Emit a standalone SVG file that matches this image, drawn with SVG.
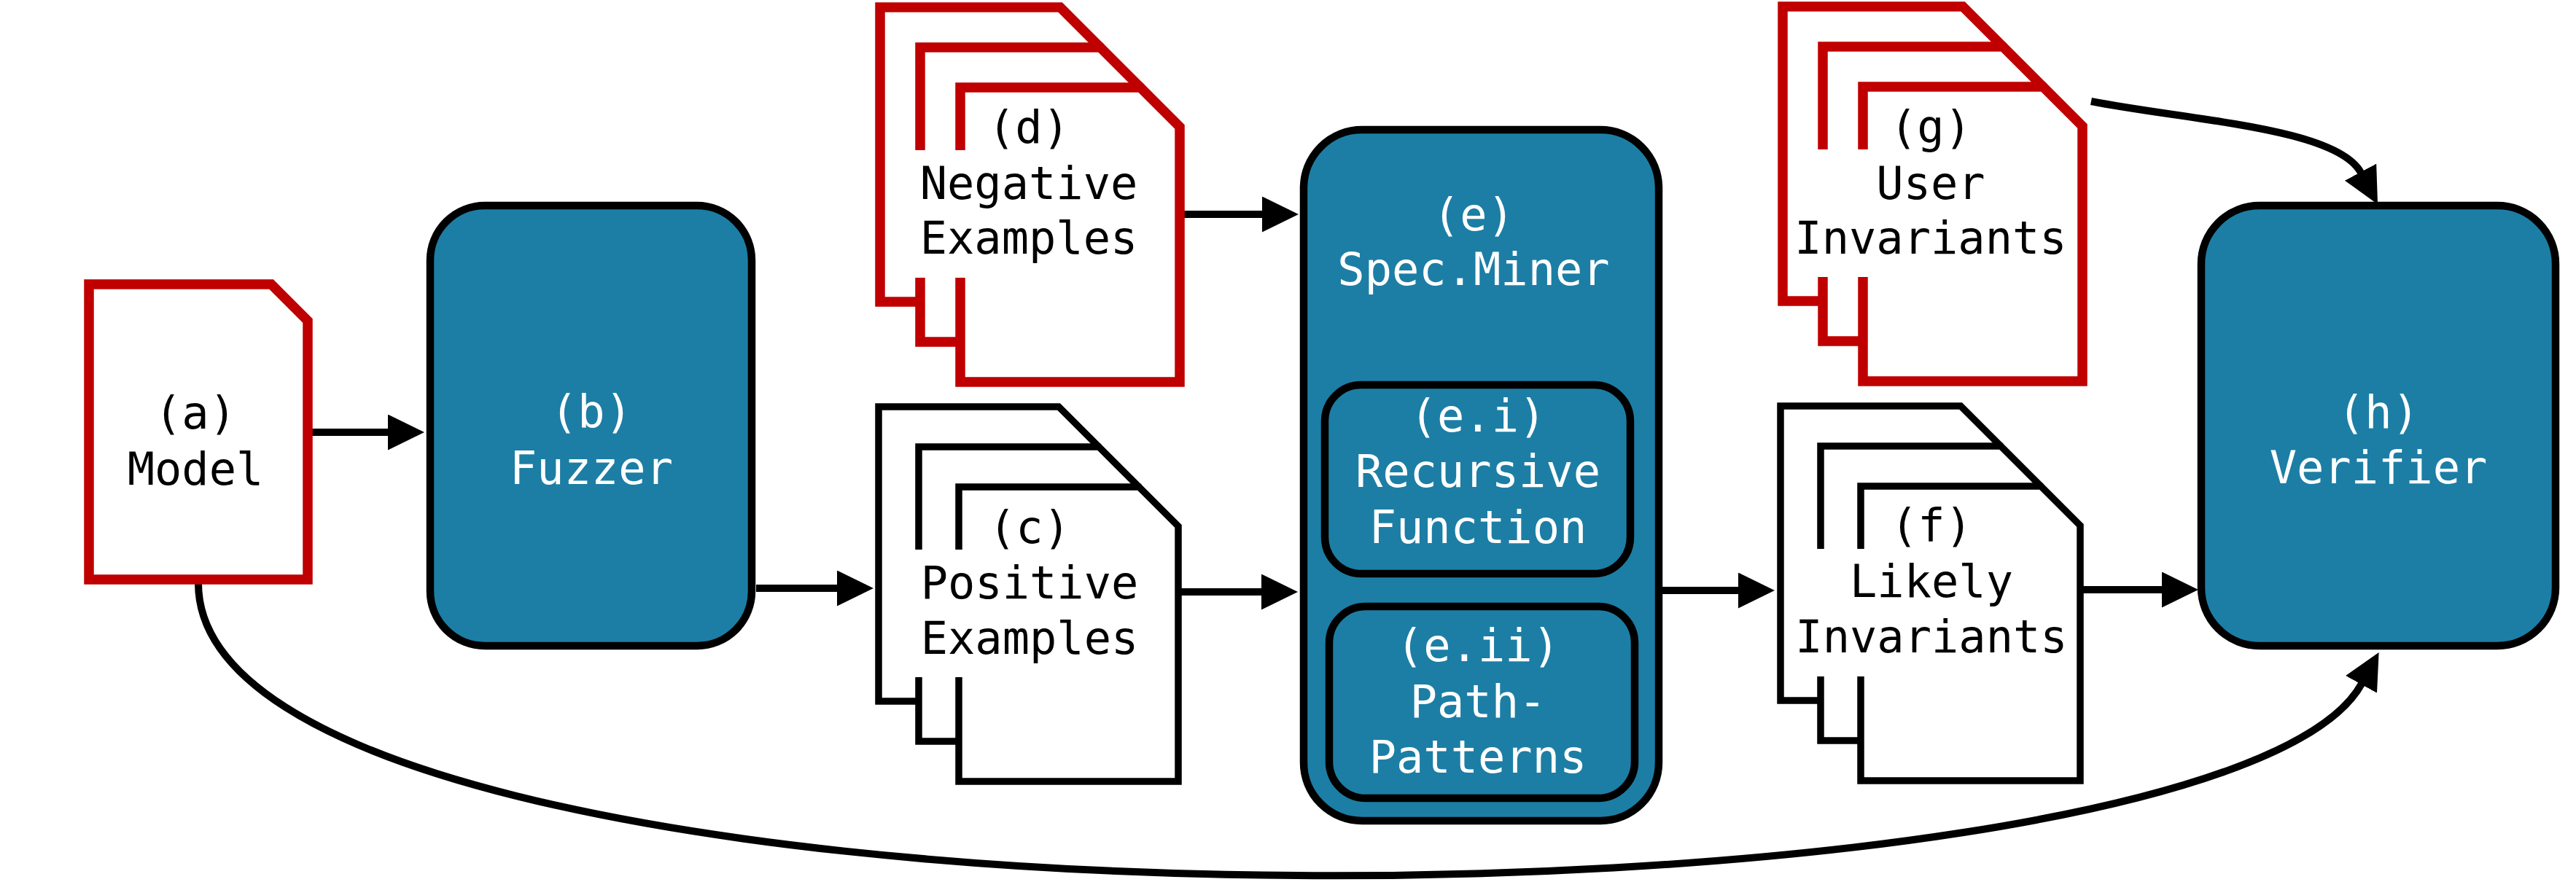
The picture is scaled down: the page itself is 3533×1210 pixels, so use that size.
<svg xmlns="http://www.w3.org/2000/svg" xmlns:xlink="http://www.w3.org/1999/xlink" width="3533" height="1210" viewBox="0 0 3533 1210">
<style>
.t{font-family:"DejaVu Sans Mono","Liberation Mono",monospace;font-size:62px;text-anchor:middle}
.tb{fill:#000}
.tw{fill:#fff}
.box{fill:#1c7ea5;stroke:#000;stroke-width:10.5}
.red{fill:#fff;stroke:#c00000;stroke-width:13.5;stroke-linejoin:miter}
.blk{fill:#fff;stroke:#000;stroke-width:9.5;stroke-linejoin:miter}
.conn{fill:none;stroke:#000;stroke-width:10}
</style>
<defs>
<marker id="ah" markerUnits="userSpaceOnUse" markerWidth="52" markerHeight="50" refX="1" refY="24.5" orient="auto">
<path d="M0,0 L50,24.5 L0,49 z" fill="#000"/>
</marker>
<polygon id="doc" points="0,0 247,0 301,54 301,404 0,404"/>
</defs>
<rect width="3533" height="1210" fill="#fff"/>
<g id="connectors">
<path class="conn" d="M423,593 H533" marker-end="url(#ah)"/>
<path class="conn" d="M1037,807 H1149" marker-end="url(#ah)"/>
<path class="conn" d="M1621,294 H1732" marker-end="url(#ah)"/>
<path class="conn" d="M1620,812 H1731" marker-end="url(#ah)"/>
<path class="conn" d="M2277,810 H2385" marker-end="url(#ah)"/>
<path class="conn" d="M2857,809 H2966" marker-end="url(#ah)"/>
<path class="conn" d="M2868,139 C3000,165 3205,175 3238,237" marker-end="url(#ah)"/>
<path class="conn" d="M272,800 C272,1320 3040,1300 3239,938" marker-end="url(#ah)"/>
</g>
<g id="node-a">
<polygon class="red" points="122,390 372,390 422,440 422,795 122,795"/>
<text class="t tb" x="268" y="588">(a)</text>
<text class="t tb" x="268" y="665">Model</text>
</g>
<g id="node-b">
<rect class="box" x="590" y="282" width="441" height="604" rx="75" ry="75"/>
<text class="t tw" x="811" y="586">(b)</text>
<text class="t tw" x="811" y="664">Fuzzer</text>
</g>
<g id="node-c" transform="translate(1205,558)">
<use xlink:href="#doc" class="blk"/>
<use xlink:href="#doc" class="blk" x="55" y="55"/>
<use xlink:href="#doc" class="blk" x="110" y="110"/>
<rect x="45" y="196" width="300" height="175" fill="#fff"/>
<text class="t tb" x="207" y="187">(c)</text>
<text class="t tb" x="207" y="263">Positive</text>
<text class="t tb" x="207" y="339">Examples</text>
</g>
<g id="node-d" transform="translate(1207,10)">
<use xlink:href="#doc" class="red"/>
<use xlink:href="#doc" class="red" x="55" y="55"/>
<use xlink:href="#doc" class="red" x="110" y="110"/>
<rect x="45" y="196" width="300" height="175" fill="#fff"/>
<text class="t tb" x="204" y="186">(d)</text>
<text class="t tb" x="204" y="263">Negative</text>
<text class="t tb" x="204" y="338">Examples</text>
</g>
<g id="node-e">
<rect class="box" x="1788" y="178" width="487" height="948" rx="80" ry="80"/>
<text class="t tw" x="2021" y="316">(e)</text>
<text class="t tw" x="2021" y="391">Spec.Miner</text>
</g>
<g id="node-e-i">
<rect class="box" x="1817" y="528" width="419" height="259" rx="50" ry="50"/>
<text class="t tw" x="2027" y="592">(e.i)</text>
<text class="t tw" x="2027" y="668">Recursive</text>
<text class="t tw" x="2027" y="745">Function</text>
</g>
<g id="node-e-ii">
<rect class="box" x="1823" y="832" width="419" height="263" rx="50" ry="50"/>
<text class="t tw" x="2027" y="907">(e.ii)</text>
<text class="t tw" x="2027" y="984">Path-</text>
<text class="t tw" x="2027" y="1060">Patterns</text>
</g>
<g id="node-f" transform="translate(2442,557)">
<use xlink:href="#doc" class="blk"/>
<use xlink:href="#doc" class="blk" x="55" y="55"/>
<use xlink:href="#doc" class="blk" x="110" y="110"/>
<rect x="45" y="196" width="300" height="175" fill="#fff"/>
<text class="t tb" x="207" y="185">(f)</text>
<text class="t tb" x="207" y="262">Likely</text>
<text class="t tb" x="207" y="338">Invariants</text>
</g>
<g id="node-g" transform="translate(2445,9)">
<use xlink:href="#doc" class="red"/>
<use xlink:href="#doc" class="red" x="55" y="55"/>
<use xlink:href="#doc" class="red" x="110" y="110"/>
<rect x="45" y="196" width="300" height="175" fill="#fff"/>
<text class="t tb" x="203" y="187">(g)</text>
<text class="t tb" x="203" y="264">User</text>
<text class="t tb" x="203" y="339">Invariants</text>
</g>
<g id="node-h">
<rect class="box" x="3019" y="282" width="486" height="604" rx="80" ry="80"/>
<text class="t tw" x="3262" y="587">(h)</text>
<text class="t tw" x="3262" y="663">Verifier</text>
</g>
</svg>
